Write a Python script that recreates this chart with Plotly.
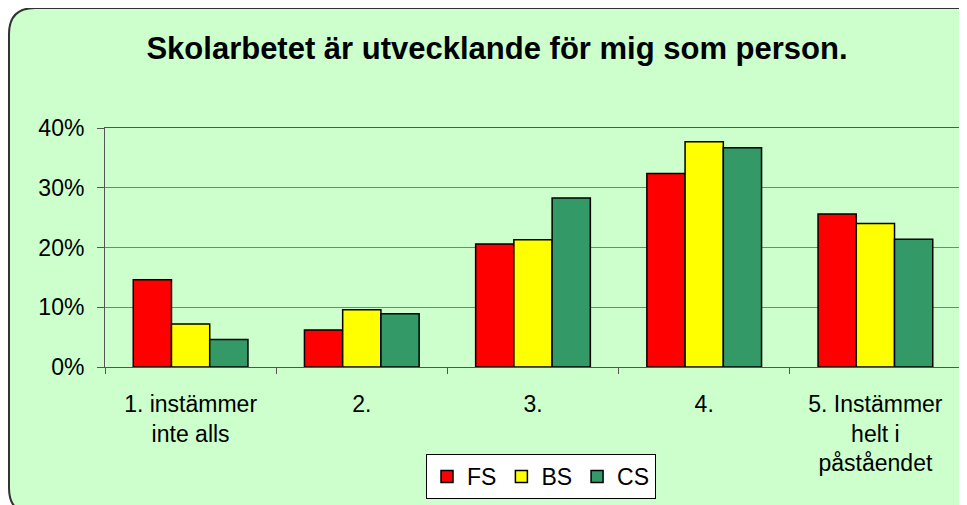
import plotly.graph_objects as go

categories = ["1. instämmer<br>inte alls", "2.", "3.", "4.", "5. Instämmer<br>helt i<br>påståendet"]
fs_values = [0.146, 0.062, 0.206, 0.324, 0.256]
bs_values = [0.072, 0.096, 0.213, 0.377, 0.240]
cs_values = [0.046, 0.089, 0.283, 0.367, 0.214]
series_names = ["FS", "BS", "CS"]
series_colors = ["#FF0000", "#FFFF00", "#339966"]
y_ticks = [0, 0.1, 0.2, 0.3, 0.4]
y_tick_labels = ["0%", "10%", "20%", "30%", "40%"]

# page is offset by 8px body margin
OFF = 8
W, H = 967 - OFF, 505 - OFF
L, R, T, B = 105 - OFF, 961 - OFF, 128 - OFF, 367 - OFF

fig = go.Figure()
for name, vals, col in zip(series_names, [fs_values, bs_values, cs_values], series_colors):
    fig.add_trace(go.Bar(name=name, x=categories, y=vals,
                         marker=dict(color=col, line=dict(color="black", width=1.5))))

def px(x):
    return (x - L) / (R - L)

def py(y):
    return (B - y) / (B - T)

x0, y0, x1, y1, r = 1, 0, 975, 506, 26
path = (f"M {px(x0 + r)},{py(y0)} L {px(x1 - r)},{py(y0)} Q {px(x1)},{py(y0)} {px(x1)},{py(y0 + r)} "
        f"L {px(x1)},{py(y1 - r)} Q {px(x1)},{py(y1)} {px(x1 - r)},{py(y1)} "
        f"L {px(x0 + r)},{py(y1)} Q {px(x0)},{py(y1)} {px(x0)},{py(y1 - r)} "
        f"L {px(x0)},{py(y0 + r)} Q {px(x0)},{py(y0)} {px(x0 + r)},{py(y0)} Z")

FONT = "Liberation Sans, Arial, sans-serif"
fig.update_layout(
    width=W, height=H,
    margin=dict(l=L, r=W - R, t=T, b=H - B, pad=0),
    paper_bgcolor="white",
    plot_bgcolor="white",
    font=dict(family=FONT, color="black", size=23),
    barmode="group",
    bargap=0.33,
    bargroupgap=0,
    title=dict(text="<b>Skolarbetet är utvecklande för mig som person.</b>",
               x=px(497 - OFF), xref="paper", xanchor="center",
               y=1 - (48 - OFF) / H, yanchor="middle",
               font=dict(size=31, family=FONT)),
    showlegend=True,
    legend=dict(orientation="h", x=px(426 - OFF), y=py(454 - OFF), xanchor="left", yanchor="top",
                bgcolor="white", bordercolor="black", borderwidth=1,
                font=dict(size=23), itemwidth=30, tracegroupgap=0),
    shapes=[dict(type="path", path=path, xref="paper", yref="paper",
                 fillcolor="#CCFFCC", line=dict(color="#333333", width=2), layer="below")],
)
fig.update_xaxes(type="category", tickson="boundaries", ticks="outside", ticklen=6,
                 tickcolor="#555555", showline=True, linecolor="#555555", linewidth=1, mirror=True,
                 showgrid=False, tickfont=dict(size=23), ticklabelstandoff=16)
fig.update_yaxes(range=[0, 0.4], tickvals=y_ticks, ticktext=y_tick_labels, ticks="outside", ticklen=7,
                 tickcolor="#555555", showline=True, linecolor="#555555", linewidth=1, mirror=True,
                 showgrid=True, gridcolor="#808080", gridwidth=1, zeroline=False,
                 tickfont=dict(size=23), ticklabelstandoff=8)

fig.write_html("out.html")
